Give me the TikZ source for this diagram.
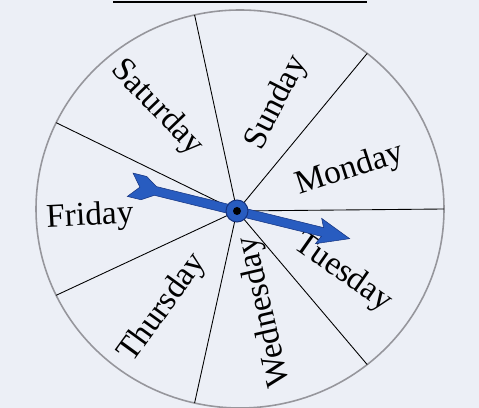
\documentclass[tikz,border=0pt]{standalone}
\usepackage{fontspec}
\setmainfont{Liberation Serif}
\definecolor{paper}{RGB}{236,239,246}
\definecolor{rimgray}{RGB}{150,150,156}
\definecolor{pointerblue}{RGB}{40,92,192}
\definecolor{pointerdark}{RGB}{22,52,128}

\begin{document}
\begin{tikzpicture}[x=0.02cm, y=0.02cm,
    day/.style={inner sep=0pt, font=\fontsize{19}{22}\selectfont},
    spoke/.style={black, line width=0.5pt},
    rim/.style={draw=rimgray, line width=0.9pt}
]
\useasboundingbox[fill=paper] (0,0) rectangle (479,408);

% Underline at the top
\coordinate (ulA) at (113,406);
\coordinate (ulB) at (367,406);
\draw[line width=1.1pt] (ulA) -- (ulB);

% Wheel
\coordinate (c) at (240,199);
\coordinate (hub) at (237,197);
\draw[rim] (c) ellipse [x radius=204, y radius=199];

% Spoke ends on the rim
\coordinate (s0) at (444,199);
\coordinate (s1) at (367.2,354.6);
\coordinate (s2) at (194.6,393.0);
\coordinate (s3) at (56.2,285.3);
\coordinate (s4) at (56.2,112.7);
\coordinate (s5) at (194.6,5.0);
\coordinate (s6) at (367.2,43.4);

% Spokes
\draw[spoke] (hub) -- (s0);
\draw[spoke] (hub) -- (s1);
\draw[spoke] (hub) -- (s2);
\draw[spoke] (hub) -- (s3);
\draw[spoke] (hub) -- (s4);
\draw[spoke] (hub) -- (s5);
\draw[spoke] (hub) -- (s6);

% Days
\node[day, rotate=18] (monday) at (350,238) {Monday};
\node[day, rotate=-35] (tuesday) at (343,135) {Tuesday};
\node[day, rotate=103] (wednesday) at (265,96) {Wednesday};
\node[day, rotate=54] (thursday) at (163,100) {Thursday};
\node[day, rotate=3] (friday) at (90,191) {Friday};
\node[day, rotate=-46] (saturday) at (157,300) {Saturday};
\node[day, rotate=63] (sunday) at (277,305) {Sunday};

% Pointer
\begin{scope}[shift={(hub)}, rotate=-13.8]
\filldraw[fill=pointerblue, draw=pointerdark, line width=0.3pt]
    (-84,4.5) -- (88,4.5) -- (84,13) -- (116,0) -- (84,-13) -- (88,-4.5)
    -- (-84,-4.5) -- (-96,-12) -- (-110,-12) -- (-100,0) -- (-110,12)
    -- (-96,12) -- cycle;
\end{scope}

% Hub
\filldraw[fill=pointerblue, draw=pointerdark, line width=0.6pt] (hub) circle[radius=11];
\fill[black] (hub) circle[radius=4];

\end{tikzpicture}
\end{document}
